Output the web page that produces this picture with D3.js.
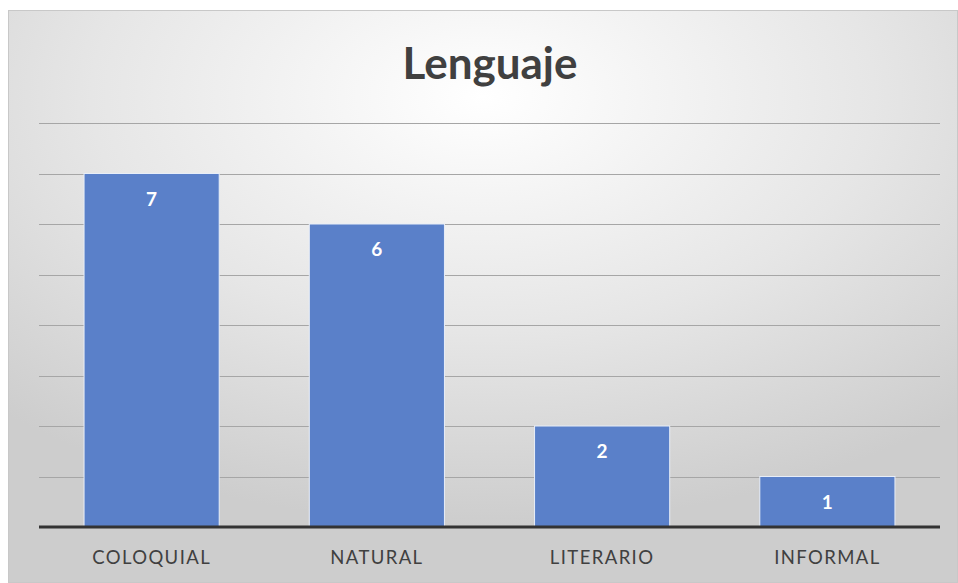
<!DOCTYPE html>
<html><head><meta charset="utf-8">
<script src="https://cdn.jsdelivr.net/npm/d3@7"></script>
<style>html,body{margin:0;padding:0;background:#fff;}svg{display:block;}</style>
</head><body>
<script>
const categories = ["COLOQUIAL", "NATURAL", "LITERARIO", "INFORMAL"];
const values = [7, 6, 2, 1];
const gridTicks = [0, 1, 2, 3, 4, 5, 6, 7, 8];
const title = "Lenguaje";

(function () {
const W = 958, H = 583;
const svg = d3.select("body").append("svg").attr("width", W).attr("height", H);
const defs = svg.append("defs");
const grad = defs.append("radialGradient").attr("id", "bg")
  .attr("cx", "50%").attr("cy", "15%").attr("r", "75%");
grad.append("stop").attr("offset", "0%").attr("stop-color", "#ffffff");
grad.append("stop").attr("offset", "55%").attr("stop-color", "#e6e6e6");
grad.append("stop").attr("offset", "100%").attr("stop-color", "#cdcdcd");

svg.append("rect").attr("x", 8.5).attr("y", 10.5).attr("width", W - 9).attr("height", H - 11)
  .attr("fill", "url(#bg)").attr("stroke", "#c8c8c8").attr("stroke-width", 1);

const pLeft = 39, pRight = 940, pTop = 123, pBottom = 527;
const x = d3.scaleBand().domain(categories).range([pLeft, pRight]).paddingInner(0.4).paddingOuter(0.2);
const y = d3.scaleLinear().domain([0, 8]).range([pBottom, pTop]);

svg.append("g").selectAll("line").data(gridTicks.filter(d => d > 0)).join("line")
  .attr("x1", pLeft).attr("x2", pRight)
  .attr("y1", d => Math.round(y(d)) + 0.5).attr("y2", d => Math.round(y(d)) + 0.5)
  .attr("stroke", "#a6a6a6").attr("stroke-width", 1);

svg.append("g").selectAll("rect").data(values).join("rect")
  .attr("x", (d, i) => x(categories[i]))
  .attr("y", d => y(d))
  .attr("width", x.bandwidth())
  .attr("height", d => pBottom - y(d))
  .attr("fill", "#5a80c9").attr("stroke", "#e8eef8").attr("stroke-width", 1);

svg.append("line").attr("x1", pLeft).attr("x2", pRight).attr("y1", pBottom).attr("y2", pBottom)
  .attr("stroke", "#333333").attr("stroke-width", 3);

svg.append("g").selectAll("text").data(values).join("text")
  .attr("x", (d, i) => x(categories[i]) + x.bandwidth() / 2)
  .attr("y", d => y(d) + 32)
  .attr("text-anchor", "middle")
  .attr("font-family", "Lato, 'Open Sans', sans-serif").attr("font-weight", "bold")
  .attr("font-size", 19).attr("fill", "#ffffff")
  .text(d => d);

const xAxis = d3.axisBottom(x).tickSize(0).tickPadding(0);
const gx = svg.append("g").attr("transform", `translate(0,${pBottom})`).call(xAxis);
gx.select(".domain").remove();
gx.selectAll("text")
  .attr("y", 37)
  .attr("dy", 0)
  .attr("font-family", "Lato, 'Open Sans', sans-serif").attr("font-size", 18.5)
  .attr("letter-spacing", "1.4px")
  .attr("fill", "#404040");

svg.append("text").attr("x", 490).attr("y", 79).attr("text-anchor", "middle")
  .attr("font-family", "Lato, 'Open Sans', sans-serif").attr("font-weight", "bold")
  .attr("font-size", 44).attr("fill", "#404040").text(title);
})();
</script>
</body></html>
